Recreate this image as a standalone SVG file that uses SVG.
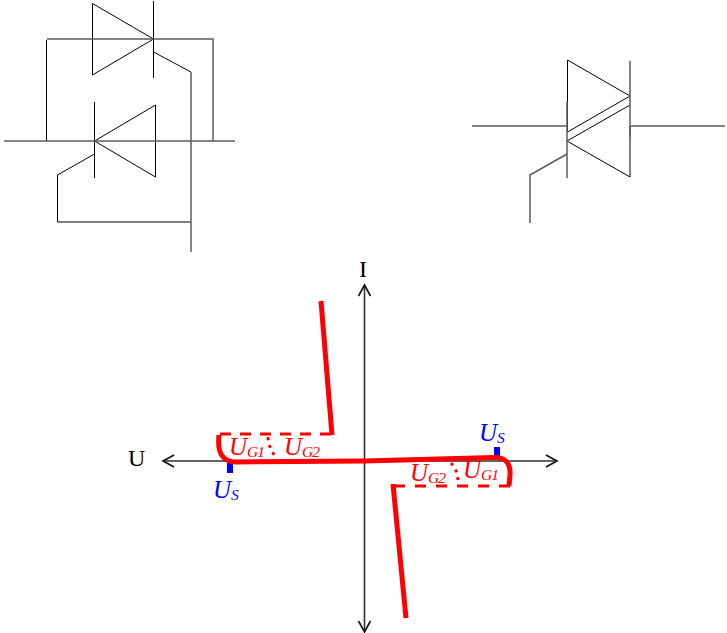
<svg xmlns="http://www.w3.org/2000/svg" width="727" height="633" viewBox="0 0 727 633">
<style>
.w{fill:none;stroke:#000;stroke-width:1}
.g{fill:none;stroke:#5c5c5c;stroke-width:1.5}
.ax{fill:none;stroke:#333;stroke-width:1.6}
.ah{fill:none;stroke:#111;stroke-width:1.6}
.r{fill:none;stroke:#f00;stroke-width:5}
.d{fill:none;stroke:#f00;stroke-width:3}
.o{fill:none;stroke:#f00;stroke-width:3;stroke-dasharray:3 5}
text{font-family:"Liberation Serif",serif}
.l{font-size:24px;fill:#000}
.m{font-size:25px;font-style:italic}
.s{font-size:15.500px;letter-spacing:-1px}
.red{fill:#f00}
.blue{fill:#00f}
</style>
<g id="thyristor-pair">
<path class="w" d="M92.500 3.500L153.500 39L92.500 75ZM153.500 1V78M94.500 102V178M155.500 105L94.500 141L155.500 177ZM46.500 40V141M153.500 52L191 72M94.500 154L57.500 175V222H191"/>
<path class="g" d="M47 39H213V141M4 141H235M191 72V252"/>
</g>
<g id="triac">
<path class="w" d="M567.500 60L630 96L567.500 132ZM630 105L567 141L630 177V126"/>
<path class="g" d="M630 61V137M567 102V178M472 126H567M631 126H725M567 154L530 175V223"/>
</g>
<g id="axes">
<path class="ax" d="M364.500 286V630M164 461H555"/>
<path class="ah" d="M358.500 296L364.500 285L370.500 296M358.500 621L364.500 632L370.500 621M174 455L163 461L174 467M546 455L557 461L546 467"/>
<text class="l" x="359" y="277">I</text>
<text class="l" x="128" y="466">U</text>
</g>
<g id="characteristic">
<rect class="blue" x="227" y="463" width="6" height="10"/>
<rect class="blue" x="494" y="447" width="6" height="10"/>
<path class="d" stroke-dasharray="11 9" d="M220 434H334"/>
<path class="d" stroke-dasharray="11 10" d="M394 486H510"/>
<path class="o" d="M268 437Q269 450 277 458"/>
<path class="o" d="M451 463Q458 470 458 482"/>
<path class="r" d="M321 301L332 435"/>
<path class="r" d="M219 435Q216 462 236 462L364 461L494 457.500Q511 457 510 475L509 486"/>
<path class="r" d="M393 484L406 618"/>
</g>
<g id="labels">
<text class="m red" x="229" y="455">U<tspan class="s" dy="2">G1</tspan></text>
<text class="m red" x="284" y="455">U<tspan class="s" dy="2">G2</tspan></text>
<text class="m red" x="410" y="481">U<tspan class="s" dy="2">G2</tspan></text>
<text class="m red" x="463" y="478">U<tspan class="s" dy="2">G1</tspan></text>
<text class="m blue" x="213" y="498">U<tspan class="s" dy="2">S</tspan></text>
<text class="m blue" x="479" y="441">U<tspan class="s" dy="2">S</tspan></text>
</g>
</svg>
